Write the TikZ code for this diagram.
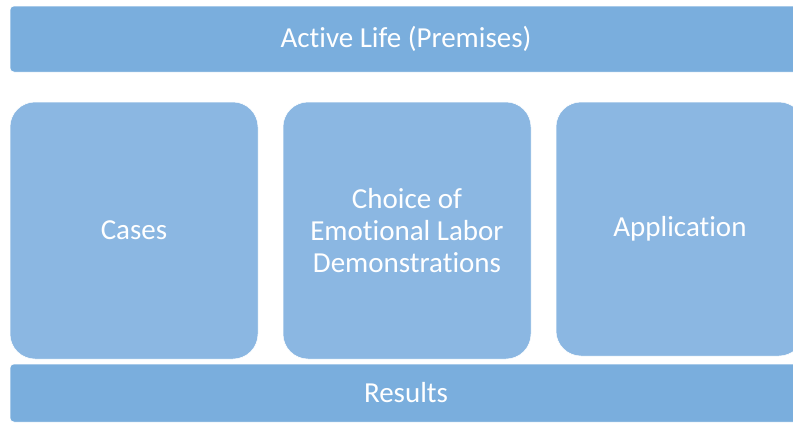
\documentclass[tikz,border=0pt]{standalone}
\usepackage{fontspec}
\setmainfont[Ligatures=NoCommon]{Carlito}
\usepackage{tikz}
\usetikzlibrary{positioning}
\definecolor{barblue}{HTML}{7AAEDD}
\definecolor{boxblue}{HTML}{8BB7E2}

\begin{document}
\begin{tikzpicture}[
    x=1pt, y=-1pt,
    bar/.style={draw=white, line width=0.5pt, rounded corners=4pt, fill=barblue, minimum width=792pt, minimum height=#1, inner sep=0pt, text=white, font=\fontsize{29}{32}\selectfont},
    box/.style={draw=white, line width=0.5pt, rounded corners=25pt, fill=boxblue, minimum width=248pt, minimum height=257pt, inner sep=0pt, align=center, text=white, font=\fontsize{29}{32}\selectfont}
]
\useasboundingbox (0,0) rectangle (793,423);
\clip (0,0) rectangle (793,423);

\node[bar=66pt] (premises) at (406, 39) {Active Life (Premises)};
\node[box] (cases) at (134, 230.5) {Cases};
\node[box] (choice) at (407, 230.5) {Choice of\\Emotional Labor\\Demonstrations};
\node[box, minimum height=254pt] (application) at (680, 229) {Application};
\node[bar=58pt] (results) at (406, 393) {Results};
\end{tikzpicture}
\end{document}
